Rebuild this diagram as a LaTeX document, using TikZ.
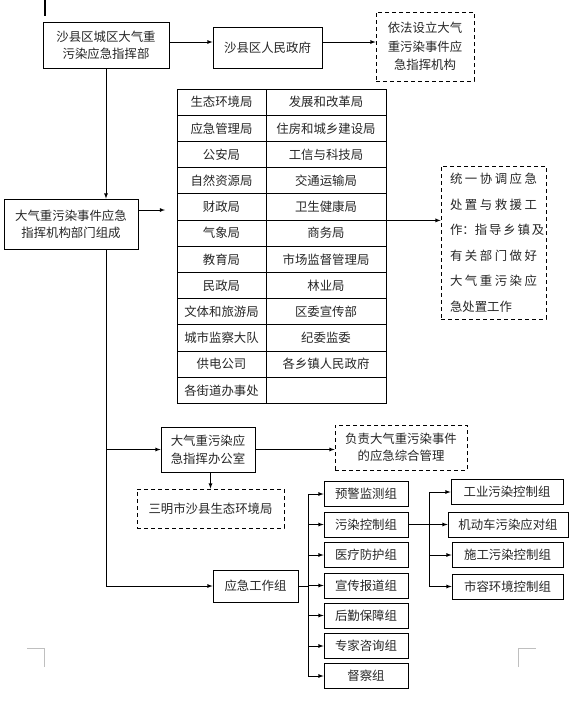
\documentclass[tikz,border=0pt]{standalone}
\usepackage{fontspec}
\setmainfont{Noto Sans CJK SC}
\newcommand{\jline}[1]{\makebox[87pt][s]{#1}}

\begin{document}
\begin{tikzpicture}[x=1pt,y=-1pt,>=latex,line width=0.8pt,
    font=\fontsize{12.4}{17}\selectfont, text=black!85,
    box/.style={draw, inner sep=0pt, align=center},
    dbox/.style={box, dash pattern=on 4pt off 3pt},
    lcell/.style={draw, inner sep=0pt, minimum width=89pt, minimum height=26.2pt},
    rcell/.style={draw, inner sep=0pt, minimum width=120pt, minimum height=26.2pt},
    grp/.style={box, minimum width=84pt, minimum height=25pt},
    sub/.style={box, minimum width=111pt, minimum height=25pt}]
        \useasboundingbox (0,0) rectangle (575,713);

        % Page marks
        \draw[line width=2pt] (45,0) -- (45,16);
        \draw[gray!50] (27,648) -- (44,648) -- (44,667);
        \draw[gray!50] (518,667) -- (518,648) -- (536,648);

        % Command level
        \node[box, minimum width=126pt, minimum height=46pt] (hq) at (106,45) {沙县区城区大气重\\污染应急指挥部};
        \node[box, minimum width=109pt, minimum height=41pt] (gov) at (267.5,47.5) {沙县区人民政府};
        \node[dbox, minimum width=98pt, minimum height=69pt, font=\fontsize{12.4}{18.5}\selectfont] (lawful) at (425,46.5) {依法设立大气\\重污染事件应\\急指挥机构};

        \coordinate (topline) at (0,42);
        \draw[->] (hq.east |- topline) -- (gov.west |- topline);
        \draw[->] (gov.east |- topline) -- (lawful.west |- topline);

        % Departments
        \node[box, minimum width=134pt, minimum height=50pt] (dept) at (71,224) {大气重污染事件应急\\指挥机构部门组成};
        \draw[->] (hq.south) -- (hq.south |- dept.north);

        \node[lcell] (t1l) at (221.5,102.1) {生态环境局};
        \node[rcell] (t1r) at (326,102.1) {发展和改革局};
        \node[lcell] (t2l) at (221.5,128.3) {应急管理局};
        \node[rcell] (t2r) at (326,128.3) {住房和城乡建设局};
        \node[lcell] (t3l) at (221.5,154.5) {公安局};
        \node[rcell] (t3r) at (326,154.5) {工信与科技局};
        \node[lcell] (t4l) at (221.5,180.7) {自然资源局};
        \node[rcell] (t4r) at (326,180.7) {交通运输局};
        \node[lcell] (t5l) at (221.5,206.9) {财政局};
        \node[rcell] (t5r) at (326,206.9) {卫生健康局};
        \node[lcell] (t6l) at (221.5,233.1) {气象局};
        \node[rcell] (t6r) at (326,233.1) {商务局};
        \node[lcell] (t7l) at (221.5,259.3) {教育局};
        \node[rcell] (t7r) at (326,259.3) {市场监督管理局};
        \node[lcell] (t8l) at (221.5,285.5) {民政局};
        \node[rcell] (t8r) at (326,285.5) {林业局};
        \node[lcell] (t9l) at (221.5,311.7) {文体和旅游局};
        \node[rcell] (t9r) at (326,311.7) {区委宣传部};
        \node[lcell] (t10l) at (221.5,337.9) {城市监察大队};
        \node[rcell] (t10r) at (326,337.9) {纪委监委};
        \node[lcell] (t11l) at (221.5,364.1) {供电公司};
        \node[rcell] (t11r) at (326,364.1) {各乡镇人民政府};
        \node[lcell] (t12l) at (221.5,390.3) {各街道办事处};
        \node[rcell] (t12r) at (326,390.3) {};

        \coordinate (deptarrow) at (165,210);
        \draw[->] (dept.east |- deptarrow) -- (deptarrow);

        % Duties
        \node[dbox, minimum width=105pt, minimum height=153pt, align=left, font=\fontsize{12.4}{25.5}\selectfont] (duty) at (493.5,242.5)
            {\jline{统 一 协 调 应 急}\\\jline{处 置 与 救 援 工}\\\jline{作：指 导 乡 镇 及}\\\jline{有 关 部 门 做 好}\\\jline{大 气 重 污 染 应}\\\makebox[87pt][l]{急处置工作}};
        \draw[->] (t5r.south east) -- (t5r.south east -| duty.west);

        % Office
        \node[box, minimum width=94pt, minimum height=45pt, font=\fontsize{12.4}{18}\selectfont] (office) at (208,449.5) {大气重污染应\\急指挥办公室};
        \node[dbox, minimum width=132pt, minimum height=45pt] (manage) at (401,447.5) {负责大气重污染事件\\的应急综合管理};
        \node[dbox, minimum width=147pt, minimum height=39pt] (bureau) at (210.5,508.5) {三明市沙县生态环境局};
        \node[box, minimum width=85pt, minimum height=32pt] (work) at (255.5,586) {应急工作组};

        \draw (hq.south |- dept.south) -- (hq.south |- work.west);
        \draw[->] (hq.south |- office.west) -- (office.west);
        \draw[->] (office.east) -- (office.east -| manage.west);
        \draw[->] (bureau.north |- office.south) -- (bureau.north);

        % Working groups
        \draw[->] (hq.south |- work.west) -- (work.west);

        \node[grp] (g1) at (366,494) {预警监测组};
        \node[grp] (g2) at (366,524.5) {污染控制组};
        \node[grp] (g3) at (366,555) {医疗防护组};
        \node[grp] (g4) at (366,585.5) {宣传报道组};
        \node[grp] (g5) at (366,615.5) {后勤保障组};
        \node[grp] (g6) at (366,646) {专家咨询组};
        \node[grp] (g7) at (366,676) {督察组};

        \coordinate (bus) at (308,0);
        \draw (work.east) -- (work.east -| bus);
        \draw (g1.west -| bus) -- (g7.west -| bus);
        \draw[->] (g1.west -| bus) -- (g1.west);
        \draw[->] (g2.west -| bus) -- (g2.west);
        \draw[->] (g3.west -| bus) -- (g3.west);
        \draw[->] (g4.west -| bus) -- (g4.west);
        \draw[->] (g5.west -| bus) -- (g5.west);
        \draw[->] (g6.west -| bus) -- (g6.west);
        \draw[->] (g7.west -| bus) -- (g7.west);

        % Pollution control sub groups
        \node[sub, minimum width=112pt] (s1) at (507,492) {工业污染控制组};
        \node[sub, minimum width=120pt] (s2) at (508,524.5) {机动车污染应对组};
        \node[sub] (s3) at (507.5,555) {施工污染控制组};
        \node[sub] (s4) at (507.5,586.5) {市容环境控制组};

        \coordinate (subbus) at (429,0);
        \draw (g2.east) -- (g2.east -| subbus);
        \draw (s1.west -| subbus) -- (s4.west -| subbus);
        \draw[->] (s1.west -| subbus) -- (s1.west);
        \draw[->] (s2.west -| subbus) -- (s2.west);
        \draw[->] (s3.west -| subbus) -- (s3.west);
        \draw[->] (s4.west -| subbus) -- (s4.west);
    \end{tikzpicture}
\end{document}
